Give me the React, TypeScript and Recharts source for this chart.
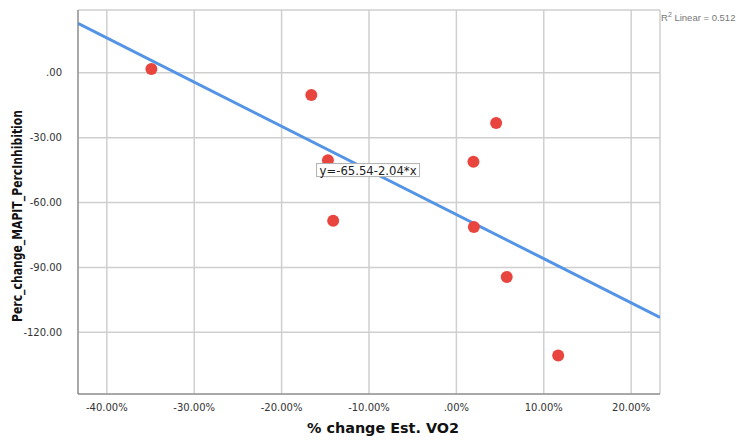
import {
  CartesianGrid,
  ReferenceDot,
  ReferenceLine,
  Scatter,
  ScatterChart,
  XAxis,
  YAxis,
} from 'recharts'

// % change Est. VO2 (x) vs Perc_change_MAPIT_PercInhibition (y)
const vo2Change = [-34.9, -16.6, -14.7, -14.1, 4.55, 1.95, 2.0, 5.76, 11.65]
const inhibitionChange = [1.7, -10.3, -40.4, -68.4, -23.2, -41.1, -71.3, -94.4, -130.7]

const xTicks = [-40, -30, -20, -10, 0, 10, 20]
const yTicks = [0, -30, -60, -90, -120]
const xDomain: [number, number] = [-43.3, 23.3]
const yDomain: [number, number] = [-148.5, 29]

// fit line y = a + b*x
const intercept = -65.54
const slope = -2.04
const rSquared = 0.512

const points = vo2Change.map((x, i) => ({ x, y: inhibitionChange[i] }))
const fitAt = (x: number) => intercept + slope * x

const TICK_FONT = "'DejaVu Sans', sans-serif"
const TITLE_FONT = "'DejaVu Sans', sans-serif"

function formatX(v: number): string {
  return v === 0 ? '.00%' : `${v.toFixed(2)}%`
}

function formatY(v: number): string {
  return v === 0 ? '.00' : v.toFixed(2)
}

function EquationBox(props: any) {
  const { cx, cy } = props
  return (
    <g>
      <rect
        x={cx}
        y={cy - 6.5}
        width={103}
        height={13}
        fill="#fff"
        stroke="#b0b0b0"
      />
      <text
        x={cx + 51.5}
        y={cy + 4.5}
        textAnchor="middle"
        fontSize={12}
        fontFamily={TICK_FONT}
        fill="#222"
        textLength={97}
        lengthAdjust="spacingAndGlyphs"
      >
        {`y=${intercept}${slope}*x`}
      </text>
    </g>
  )
}

function Dot(props: any) {
  const { cx, cy } = props
  return <circle cx={cx} cy={cy} r={6} fill="#e8453f" />
}

function XTitle() {
  return (
    <text
      x={383}
      y={433}
      textAnchor="middle"
      fontSize={14}
      fontWeight={700}
      fontFamily={TITLE_FONT}
      fill="#111"
      textLength={152}
      lengthAdjust="spacingAndGlyphs"
    >
      % change Est. VO2
    </text>
  )
}

function YTitle() {
  return (
    <text
      x={0}
      y={0}
      transform="translate(22, 216) rotate(-90)"
      textAnchor="middle"
      fontSize={14}
      fontWeight={700}
      fontFamily={TITLE_FONT}
      fill="#111"
      textLength={212}
      lengthAdjust="spacingAndGlyphs"
    >
      Perc_change_MAPIT_PercInhibition
    </text>
  )
}

export default function App() {
  return (
    <div style={{ position: 'absolute', left: 0, top: 0, width: 746, height: 440, background: '#fff' }}>
      <ScatterChart
        width={746}
        height={440}
        margin={{ top: 10, right: 86, left: 0, bottom: 0 }}
      >
        <CartesianGrid stroke="#cfcfcf" strokeWidth={1.5} />
        <XAxis
          type="number"
          dataKey="x"
          domain={xDomain}
          ticks={xTicks}
          tickFormatter={formatX}
          height={46}
          tickSize={0}
          tickMargin={10}
          axisLine={{ stroke: '#777' }}
          tick={{ fill: '#333', fontSize: 10, fontFamily: TICK_FONT }}
          allowDataOverflow
          label={<XTitle />}
        />
        <YAxis
          type="number"
          dataKey="y"
          domain={yDomain}
          ticks={yTicks}
          tickFormatter={formatY}
          width={78}
          tickSize={0}
          tickMargin={16}
          axisLine={{ stroke: '#777' }}
          tick={{ fill: '#333', fontSize: 10, fontFamily: TICK_FONT }}
          allowDataOverflow
          label={<YTitle />}
        />
        <ReferenceLine
          segment={[
            { x: xDomain[0], y: fitAt(xDomain[0]) },
            { x: xDomain[1], y: fitAt(xDomain[1]) },
          ]}
          stroke="#5394e6"
          strokeWidth={3}
          ifOverflow="hidden"
        />
        <Scatter data={points} shape={<Dot />} isAnimationActive={false} />
        <ReferenceDot x={-16} y={-45} r={0} shape={<EquationBox />} />
      </ScatterChart>
      <div
        style={{
          position: 'absolute',
          left: 661,
          top: 11,
          fontSize: 9.5,
          color: '#777',
          fontFamily: "'Liberation Sans', sans-serif",
          whiteSpace: 'nowrap',
        }}
      >
        R<sup style={{ fontSize: 7 }}>2</sup> Linear = {rSquared}
      </div>
    </div>
  )
}
